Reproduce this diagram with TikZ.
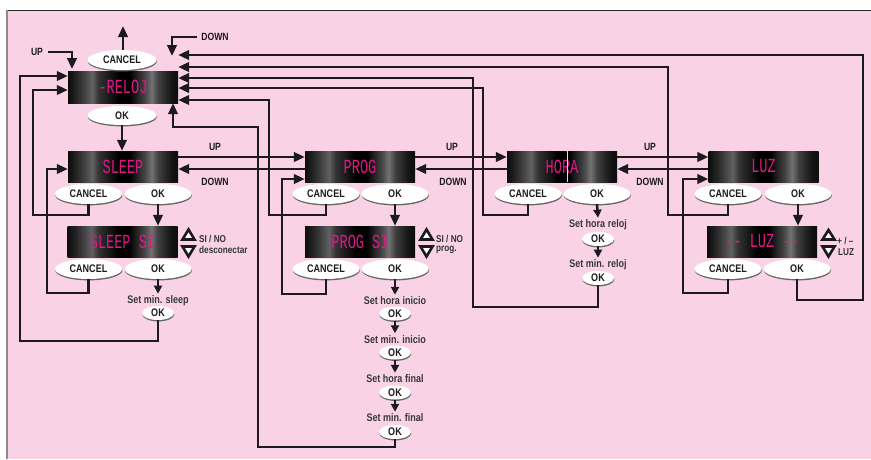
\documentclass[tikz,border=0pt]{standalone}
\usepackage{fontspec}
\setmainfont{Liberation Sans}[FakeStretch=0.82]
\newfontfamily\segfont{Liberation Mono}[FakeStretch=0.68]
\usetikzlibrary{arrows.meta,shapes.geometric,shadows}
\definecolor{bgpink}{RGB}{249,211,229}
\definecolor{segmag}{RGB}{222,24,134}
\definecolor{ink}{RGB}{28,26,28}
\pgfdeclarehorizontalshading{dispshade}{100bp}{color(0bp)=(black!95); color(25bp)=(black!95); color(29bp)=(black!85); color(36bp)=(black!62); color(39bp)=(black!80); color(48bp)=(black); color(53bp)=(black); color(60bp)=(black!72); color(63bp)=(black!55); color(66bp)=(black!75); color(72bp)=(black!92); color(75bp)=(black!95); color(100bp)=(black!95)}
\tikzset{
  disp/.style={rectangle, shading=dispshade, minimum width=110pt, minimum height=31pt, inner sep=0pt,
    font=\segfont\fontsize{20}{20}\selectfont, text=segmag},
  btn/.style={ellipse, fill=white, minimum width=67pt, minimum height=20pt, inner sep=0pt,
    font=\bfseries\fontsize{11}{11}\selectfont, text=ink,
    drop shadow={shadow xshift=0.3pt, shadow yshift=-1.4pt, fill=black!60, opacity=1}},
  sbtn/.style={btn, minimum width=32pt, minimum height=14pt},
  lbl/.style={font=\bfseries\fontsize{10.5}{10.5}\selectfont, inner sep=0pt, text=ink},
  settxt/.style={font=\bfseries\fontsize{11}{11}\selectfont, inner sep=0pt, text=black!78},
  sidetxt/.style={font=\bfseries\fontsize{10}{10}\selectfont, inner sep=0pt, text=black!80, anchor=west},
  conn/.style={line width=2.5pt, draw=ink},
  arr/.style={conn, -{Triangle[length=11pt,width=9.5pt]}},
  sarr/.style={conn, -{Triangle[length=8pt,width=8pt]}},
  tri/.style={draw=ink, fill=white, line width=2.6pt, line join=miter},
}
\begin{document}
\begin{tikzpicture}[x=1pt,y=-1pt]
\useasboundingbox (0,0) rectangle (871,459);
% frame
\fill[bgpink] (7,10) rectangle (871,459);
\draw[black!85, line width=1pt] (7,10) -- (871,10);
\draw[black!45, line width=1.3pt] (7,10) -- (7,459);

% RELOJ
\node[disp, minimum height=32pt] (reloj) at (123,87) {-RELOJ};
\node[btn, minimum width=69pt] (rcan) at (122,60) {CANCEL};
\node[btn, minimum width=69pt, minimum height=19pt] (rok) at (122,115.5) {OK};
\coordinate (rtop) at (123,26);
\node[lbl] (upl) at (37,52) {UP};
\coordinate (upend) at (72,69);
\node[lbl] (dnl) at (215,37) {DOWN};
\coordinate (dnend) at (172,56);

% SLEEP
\node[disp] (sleep) at (123,166.5) {SLEEP};
\node[btn] (scan) at (88.5,194) {CANCEL};
\node[btn] (sok) at (158,194) {OK};
\node[disp] (sleepsi) at (122.5,241.5) {SLEEP SI};
\node[btn] (sican) at (88.5,269) {CANCEL};
\node[btn] (siok) at (158,269) {OK};
\node[settxt] (tsleep) at (158,301) {Set min. sleep};
\node[sbtn] (oksleep) at (158,313) {OK};
\draw[tri] (182.5,239.5) -- (194.5,239.5) -- (188.5,229.5) -- cycle;
\draw[tri] (182.5,246.5) -- (194.5,246.5) -- (188.5,256.5) -- cycle;
\node[sidetxt] (sisl) at (199,239) {SI / NO};
\node[sidetxt] (desc) at (199,250) {desconectar};

% PROG
\node[disp] (prog) at (360,166.5) {PROG};
\node[btn] (pcan) at (326,194) {CANCEL};
\node[btn] (pok) at (395,194) {OK};
\node[disp] (progsi) at (360,241.5) {PROG SI};
\node[btn] (psican) at (326,269) {CANCEL};
\node[btn] (psiok) at (395,269) {OK};
\draw[tri] (420.5,239.5) -- (432.5,239.5) -- (426.5,229.5) -- cycle;
\draw[tri] (420.5,246.5) -- (432.5,246.5) -- (426.5,256.5) -- cycle;
\node[sidetxt] (sipr) at (436,239) {SI / NO};
\node[sidetxt] (prg) at (436,250) {prog.};
\node[settxt] (t1) at (395,301) {Set hora inicio};
\node[sbtn] (ok1) at (395,313.5) {OK};
\node[settxt] (t2) at (395,339.5) {Set min. inicio};
\node[sbtn] (ok2) at (395,352.5) {OK};
\node[settxt] (t3) at (395,379) {Set hora final};
\node[sbtn] (ok3) at (395,392.5) {OK};
\node[settxt] (t4) at (395,418) {Set min. final};
\node[sbtn] (ok4) at (395,432) {OK};

% HORA
\node[disp] (hora) at (562,166.5) {HORA};
\draw[white!75!gray, line width=0.8pt] ([xshift=5pt]hora.north) -- ([xshift=5pt]hora.south);
\node[btn] (hcan) at (528,194) {CANCEL};
\node[btn] (hok) at (597,194) {OK};
\node[settxt] (th1) at (598,225) {Set hora reloj};
\node[sbtn] (hok1) at (598,239) {OK};
\node[settxt] (th2) at (598,265) {Set min. reloj};
\node[sbtn] (hok2) at (598,278) {OK};

% LUZ
\node[disp] (luz) at (763.5,166.5) {LUZ};
\node[btn] (lcan) at (728,194) {CANCEL};
\node[btn] (lok) at (798,194) {OK};
\node[disp] (luzsi) at (762,241.5) {-{}- LUZ -{}-};
\node[btn] (lsican) at (728,269) {CANCEL};
\node[btn] (lsiok) at (797,269) {OK};
\draw[tri] (822.5,239.5) -- (834.5,239.5) -- (828.5,230) -- cycle;
\draw[tri] (822.5,246.5) -- (834.5,246.5) -- (828.5,256.5) -- cycle;
\node[sidetxt] (pm) at (837,241) {+ / –};
\node[sidetxt] (luzt) at (838,252) {LUZ};

% UP / DOWN labels between screens
\node[lbl] (u1) at (215,147) {UP};
\node[lbl] (d1) at (215,182) {DOWN};
\node[lbl] (u2) at (452,147) {UP};
\node[lbl] (d2) at (453,182) {DOWN};
\node[lbl] (u3) at (650,147) {UP};
\node[lbl] (d3) at (650,182) {DOWN};

% horizontal UP / DOWN arrows
\draw[arr] (sleep.east |- 0,157) -- (prog.west |- 0,157);
\draw[arr] (prog.west |- 0,169) -- (sleep.east |- 0,169);
\draw[arr] (prog.east |- 0,157) -- (hora.west |- 0,157);
\draw[arr] (hora.west |- 0,169) -- (prog.east |- 0,169);
\draw[arr] (hora.east |- 0,157) -- (luz.west |- 0,157);
\draw[arr] (luz.west |- 0,169) -- (hora.east |- 0,169);

% top arrows
\draw[arr] (rcan.north -| rtop) -- (rtop);
\draw[arr] ([xshift=5pt]upl.east) -| (upend);
\draw[arr] ([xshift=-4pt]dnl.west) -| (dnend);

% down arrows
\draw[arr] (rok.south) -- (rok.south |- sleep.north);
\draw[arr] (sok.south) -- (sok.south |- sleepsi.north);
\draw[sarr] (siok.south) -- ([yshift=2pt]tsleep.north);
\draw[arr] (pok.south) -- (pok.south |- progsi.north);
\draw[sarr] (psiok.south) -- ([yshift=2pt]t1.north);
\draw[sarr] (ok1.south) -- ([yshift=2pt]t2.north);
\draw[sarr] (ok2.south) -- ([yshift=2pt]t3.north);
\draw[sarr] (ok3.south) -- ([yshift=2pt]t4.north);
\draw[sarr] (hok.south) -- ([yshift=2pt]th1.north);
\draw[sarr] (hok1.south) -- ([yshift=2pt]th2.north);
\draw[arr] (lok.south) -- (lok.south |- luzsi.north);

% return loops to RELOJ
\draw[arr] (oksleep.south) |- (20,341) -- (20,76) -- (reloj.west |- 20,76);
\draw[arr] (scan.south) |- (33,215) -- (33,90) -- (reloj.west |- 33,90);
\draw[arr] (pcan.south) |- (269,215) -- (269,100) -- (reloj.east |- 269,100);
\draw[arr] (hcan.south) |- (483,215) -- (483,88) -- (reloj.east |- 483,88);
\draw[arr] (hok2.south) |- (473,307) -- (473,78) -- (reloj.east |- 473,78);
\draw[arr] (lcan.south) |- (668,215) -- (668,67) -- (reloj.east |- 668,67);
\draw[arr] (lsiok.south) |- (863,300) -- (863,55) -- (reloj.east |- 863,55);
\draw[arr] (ok4.south) |- (258,447) -- (258,127) -- (173,127) -- (reloj.south -| 173,127);

% return loops to first level screens
\draw[arr] (sican.south) |- (47,293) -- (47,169) -- (sleep.west |- 47,169);
\draw[arr] (psican.south) |- (282,294) -- (282,179) -- (prog.west |- 282,179);
\draw[arr] (lsican.south) |- (683,293) -- (683,179) -- (luz.west |- 683,179);
\end{tikzpicture}
\end{document}
